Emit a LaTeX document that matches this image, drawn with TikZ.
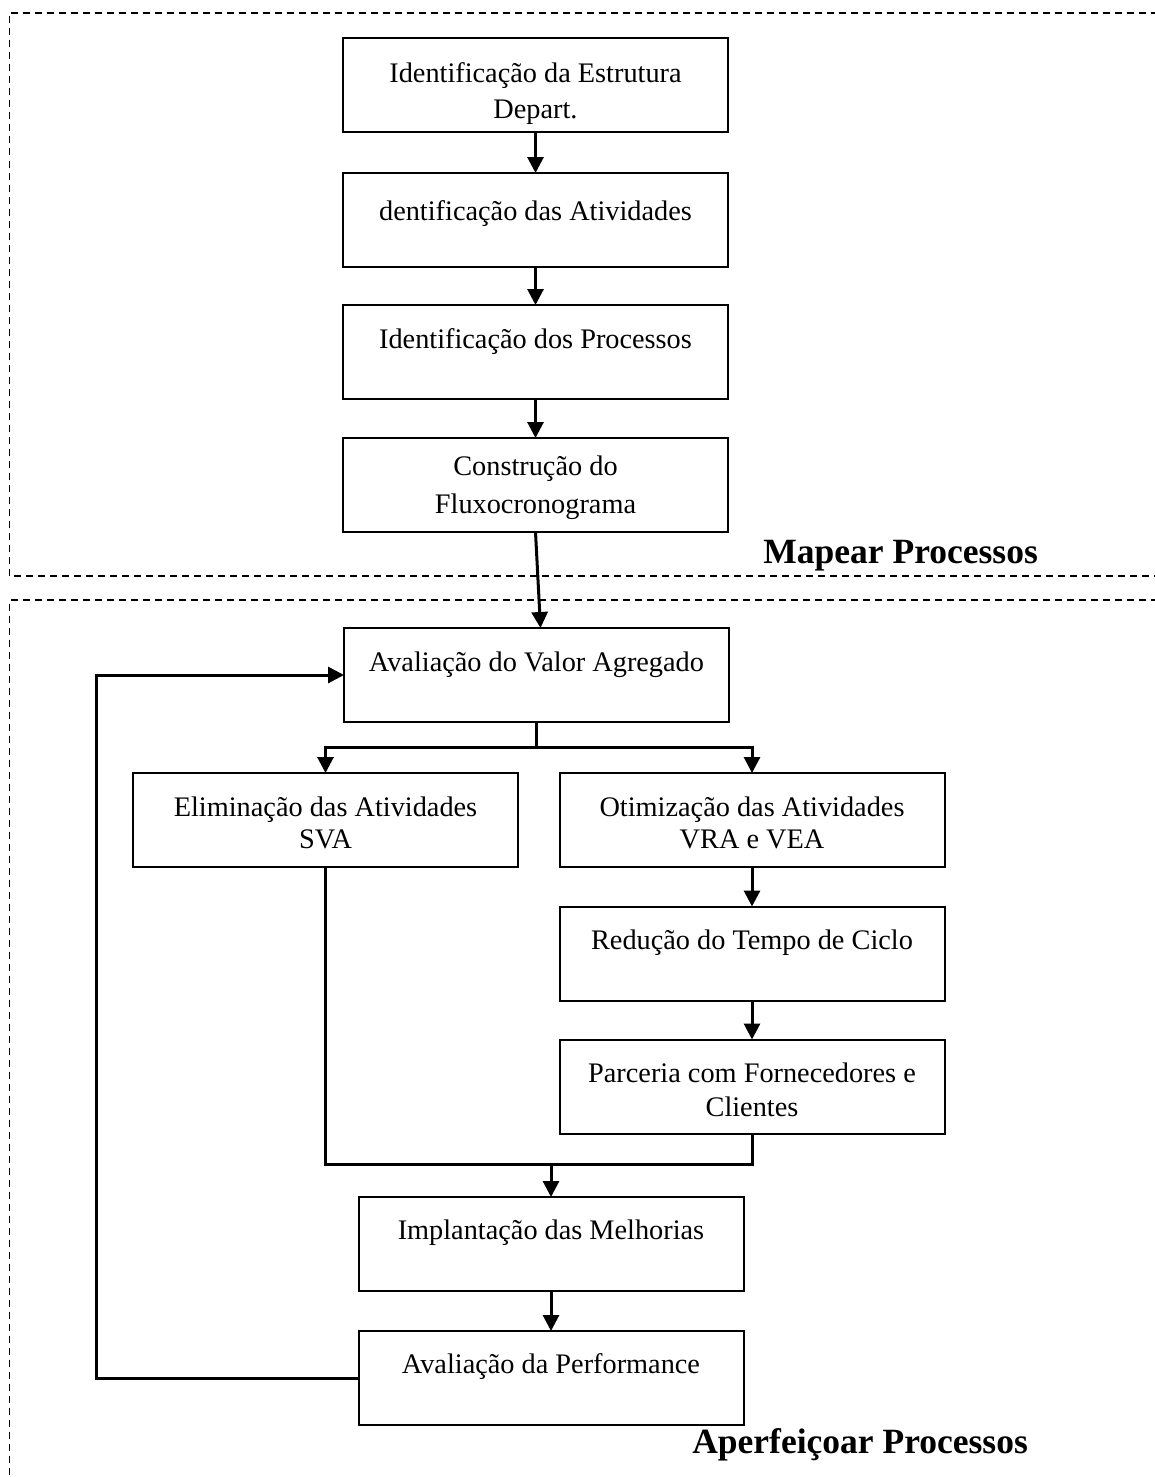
\documentclass[tikz,border=0pt]{standalone}
\usepackage{fontspec}
\setmainfont{Liberation Serif}
\usetikzlibrary{arrows.meta}

% Box contents: fixed-size parbox, text hung from the top edge.
% #1 = distance from top edge to first baseline, #2 = line spacing, #3 = text
\newcommand\boxlabel[3]{\parbox[c][94pt][t]{385pt}{%
  \fontsize{28.3pt}{#2}\selectfont\centering\rule{0pt}{#1}#3}}

\tikzset{
  flowbox/.style={draw, line width=2pt, inner sep=0pt, outer sep=0pt},
  link/.style={line width=3pt},
  conn/.style={link, -{Triangle[length=16pt,width=16pt]}},
  frame/.style={line width=1.6pt, dash pattern=on 7pt off 5pt},
  phase/.style={font=\fontsize{35.5pt}{40pt}\selectfont\bfseries, inner sep=0pt}
}

\begin{document}
\begin{tikzpicture}[x=1pt, y=-1pt]
  \path[use as bounding box, clip] (0,0) rectangle (1155,1477);
  \fill[white] (0,0) rectangle (1155,1477);

  % phase frames
  \draw[frame] (1170,13) -- (9.5,13) -- (9.5,576) -- (1170,576);
  \draw[frame] (1170,600) -- (9.5,600) -- (9.5,1490);

  % mapping phase
  \node[flowbox] (b1) at (535.5,85)  {\boxlabel{45pt}{36pt}{Identificação da Estrutura\\Depart.}};
  \node[flowbox] (b2) at (535.5,220) {\boxlabel{47pt}{34pt}{dentificação das Atividades}};
  \node[flowbox] (b3) at (535.5,352) {\boxlabel{43pt}{34pt}{Identificação dos Processos}};
  \node[flowbox] (b4) at (535.5,485) {\boxlabel{37pt}{38pt}{Construção do\\Fluxocronograma}};

  % improvement phase
  \node[flowbox] (b5)  at (536.5,675)  {\boxlabel{43pt}{34pt}{Avaliação do Valor Agregado}};
  \node[flowbox] (b6)  at (325.5,820)  {\boxlabel{43pt}{32pt}{Eliminação das Atividades\\SVA}};
  \node[flowbox] (b7)  at (752,820)    {\boxlabel{43pt}{32pt}{Otimização das Atividades\\VRA e VEA}};
  \node[flowbox] (b8)  at (752,953.5)  {\boxlabel{43pt}{34pt}{Redução do Tempo de Ciclo}};
  \node[flowbox] (b9)  at (752,1086.5) {\boxlabel{43pt}{34pt}{Parceria com Fornecedores e\\Clientes}};
  \node[flowbox] (b10) at (551,1244)   {\boxlabel{42pt}{34pt}{Implantação das Melhorias}};
  \node[flowbox] (b11) at (551,1378)   {\boxlabel{42pt}{34pt}{Avaliação da Performance}};

  \node[phase, anchor=base east] (mapear) at (1038,563)  {Mapear Processos};
  \node[phase, anchor=base east] (aperf)  at (1028,1453) {Aperfeiçoar Processos};

  % connectors
  \draw[conn] (b1.south) -- (b2.north);
  \draw[conn] (b2.south) -- (b3.north);
  \draw[conn] (b3.south) -- (b4.north);
  \draw[conn] (b4.south) -- ([xshift=4pt]b5.north);

  \coordinate (split) at (537,747);
  \draw[link] (b5.south) -- (b5.south |- split);
  \draw[conn] (b5.south |- split) -| (b6.north);
  \draw[conn] (b5.south |- split) -| (b7.north);

  \draw[conn] (b7.south) -- (b8.north);
  \draw[conn] (b8.south) -- (b9.north);

  \coordinate (merge) at (551,1164);
  \draw[link] (b6.south) |- (b9.south |- merge) -- (b9.south);
  \draw[conn] (b10.north |- merge) -- (b10.north);

  \draw[conn] (b10.south) -- (b11.north);

  \coordinate (loop) at (96,0);
  \draw[conn] (b11.west) -- (b11.west -| loop) |- (b5.west);
\end{tikzpicture}
\end{document}
